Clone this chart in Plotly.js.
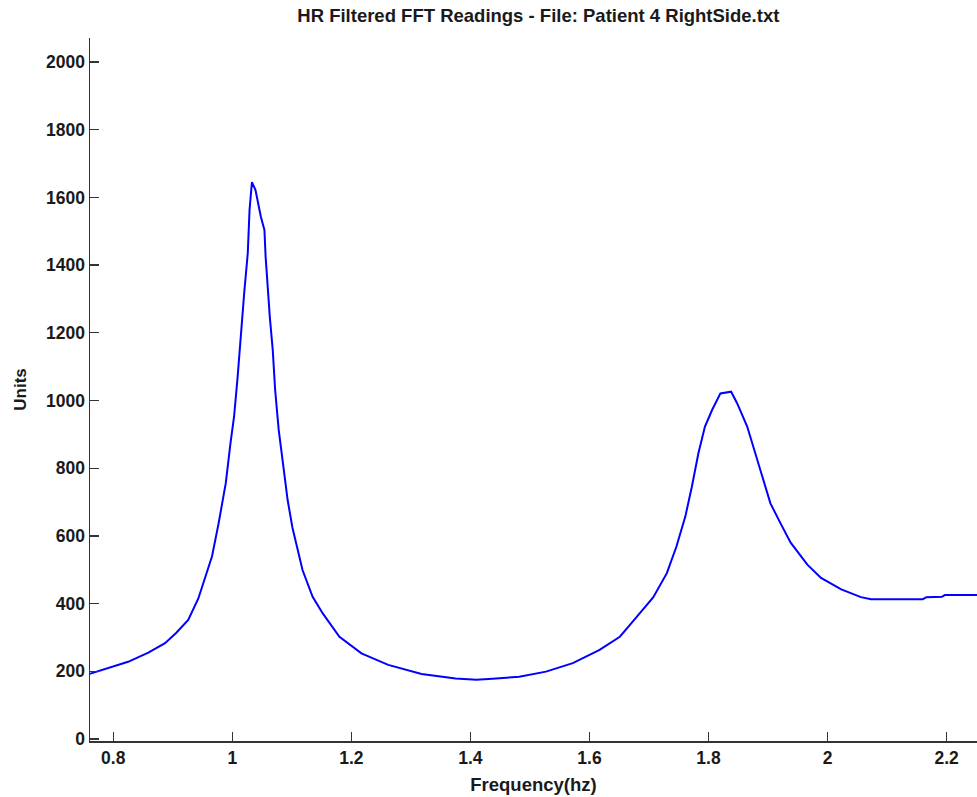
<!DOCTYPE html>
<html>
<head>
<meta charset="utf-8">
<script src="https://cdn.plot.ly/plotly-3.0.1.min.js"></script>
<style>html,body{margin:0;padding:0;background:#fff;}#chart{width:977px;height:797px;}</style>
</head>
<body>
<div id="chart"></div>
<script>
const freqHz = [0.758,0.791,0.825,0.859,0.887,0.906,0.926,0.943,0.954,0.966,0.977,0.989,0.997,1.003,1.009,1.014,1.020,1.026,1.029,1.033,1.039,1.048,1.054,1.056,1.059,1.063,1.068,1.072,1.078,1.086,1.093,1.101,1.107,1.118,1.135,1.152,1.180,1.217,1.262,1.318,1.375,1.410,1.437,1.482,1.527,1.572,1.617,1.651,1.668,1.685,1.707,1.730,1.746,1.761,1.772,1.783,1.794,1.806,1.820,1.838,1.848,1.865,1.882,1.904,1.921,1.938,1.966,1.989,2.023,2.056,2.073,2.113,2.160,2.166,2.192,2.197,2.259];
const units = [191,209,228,255,283,314,352,415,472,540,637,755,874,952,1070,1188,1317,1435,1563,1645,1622,1543,1504,1425,1346,1248,1149,1031,913,795,706,625,577,499,420,371,302,253,219,192,179,175,178,184,199,224,263,302,337,371,418,490,568,657,745,844,923,972,1021,1026,992,923,824,696,637,580,515,476,442,419,413,413,413,419,420,425,425];
const xTicks = [0.8,1,1.2,1.4,1.6,1.8,2,2.2];
const xTickLabels = ['0.8','1','1.2','1.4','1.6','1.8','2','2.2'];
const yTicks = [0,200,400,600,800,1000,1200,1400,1600,1800,2000];
const yTickLabels = ['0','200','400','600','800','1000','1200','1400','1600','1800','2000'];
const chartTitle = 'HR Filtered FFT Readings - File: Patient 4 RightSide.txt';

const font = {family: 'Liberation Sans, Arial, sans-serif', color: '#1a1a1a', weight: 'bold'};
Plotly.newPlot('chart', [{
  x: freqHz, y: units, type: 'scatter', mode: 'lines',
  line: {color: '#0000ff', width: 2}, hoverinfo: 'skip'
}], {
  width: 977, height: 797,
  margin: {l: 90, r: 0, t: 38, b: 56},
  paper_bgcolor: '#fff', plot_bgcolor: '#fff',
  showlegend: false,
  title: {text: chartTitle, font: Object.assign({}, font, {size: 18.5}), x: 0.551, xanchor: 'center', y: 0.981, yanchor: 'middle'},
  xaxis: {
    range: [0.761, 2.251], tickvals: xTicks, ticktext: xTickLabels,
    showline: true, linecolor: '#333', linewidth: 1.5, mirror: false,
    ticks: 'inside', ticklen: 9, tickwidth: 1.3, tickcolor: '#333',
    showgrid: false, zeroline: false,
    tickfont: Object.assign({}, font, {size: 17.5}),
    title: {text: 'Frequency(hz)', font: Object.assign({}, font, {size: 18.5}), standoff: 11}
  },
  yaxis: {
    range: [-6, 2071], tickvals: yTicks, ticktext: yTickLabels,
    showline: true, linecolor: '#333', linewidth: 1.5, mirror: false,
    ticks: 'inside', ticklen: 9, tickwidth: 1.3, tickcolor: '#333',
    showgrid: false, zeroline: false,
    tickfont: Object.assign({}, font, {size: 17.5}),
    title: {text: 'Units', font: Object.assign({}, font, {size: 17}), standoff: 15}
  }
}, {staticPlot: true, displayModeBar: false});
</script>
</body>
</html>
